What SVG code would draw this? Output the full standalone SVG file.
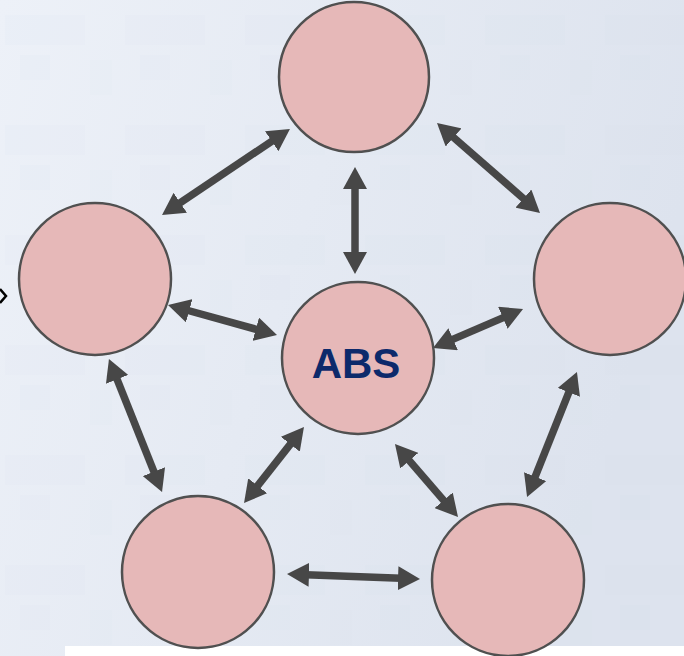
<svg xmlns="http://www.w3.org/2000/svg" width="684" height="656" viewBox="0 0 684 656">
  <defs>
    <linearGradient id="bg" x1="0" y1="0" x2="1" y2="0.3">
      <stop offset="0" stop-color="#edf1f8"/>
      <stop offset="1" stop-color="#dde3ee"/>
    </linearGradient>
    <pattern id="tex" width="120" height="110" patternUnits="userSpaceOnUse">
      <rect x="5" y="15" width="80" height="30" fill="#c9d1de" opacity="0.08"/>
      <rect x="20" y="55" width="30" height="25" fill="#c9d1de" opacity="0.07"/>
      <rect x="90" y="60" width="22" height="35" fill="#c9d1de" opacity="0.06"/>
    </pattern>
    <marker id="head" viewBox="0 0 22 24" refX="3" refY="12" markerWidth="22" markerHeight="24" markerUnits="userSpaceOnUse" orient="auto-start-reverse">
      <path d="M0,0 L22,12 L0,24 z" fill="#474747"/>
    </marker>
    <style>
      .node { fill: #e6b8b8; stroke: #505050; stroke-width: 2.5; }
      .link { stroke: #474747; stroke-width: 7.5; fill: none; marker-start: url(#head); marker-end: url(#head); }
      .label { font-family: "Liberation Sans", Arial, sans-serif; font-weight: bold; font-size: 42px; fill: #0d2a6b; text-anchor: middle; }
    </style>
  </defs>

  <!-- backdrop -->
  <rect width="684" height="656" fill="url(#bg)"/>
  <rect width="684" height="656" fill="url(#tex)"/>
  <rect x="65" y="646" width="619" height="10" fill="#ffffff"/>
  <polyline points="0,289 6,296 0,303" fill="none" stroke="#000000" stroke-width="2.5"/>

  <!-- connectors -->
  <g id="connectors">
    <line class="link" x1="274.2" y1="139.6" x2="177.8" y2="204.4"/>
    <line class="link" x1="451.3" y1="135.5" x2="525.7" y2="200.5"/>
    <line class="link" x1="355" y1="186" x2="355" y2="255"/>
    <line class="link" x1="186.3" y1="310.0" x2="258.7" y2="330.0"/>
    <line class="link" x1="450.4" y1="340.4" x2="505.6" y2="316.6"/>
    <line class="link" x1="116.0" y1="376.6" x2="155.0" y2="474.4"/>
    <line class="link" x1="292.2" y1="441.9" x2="255.8" y2="488.1"/>
    <line class="link" x1="407.4" y1="458.4" x2="445.6" y2="502.6"/>
    <line class="link" x1="569.9" y1="389.6" x2="534.1" y2="479.4"/>
    <line class="link" x1="306" y1="574.7" x2="401" y2="578.3"/>
  </g>

  <!-- nodes -->
  <g id="node-top"><circle class="node" cx="354" cy="77" r="75"/></g>
  <g id="node-left"><circle class="node" cx="95" cy="279" r="76"/></g>
  <g id="node-right"><circle class="node" cx="610" cy="279" r="76"/></g>
  <g id="node-abs">
    <circle class="node" cx="358" cy="358" r="76"/>
    <text class="label" x="356" y="378">ABS</text>
  </g>
  <g id="node-bottom-left"><circle class="node" cx="198" cy="572" r="76"/></g>
  <g id="node-bottom-right"><circle class="node" cx="508" cy="580" r="76"/></g>
</svg>
